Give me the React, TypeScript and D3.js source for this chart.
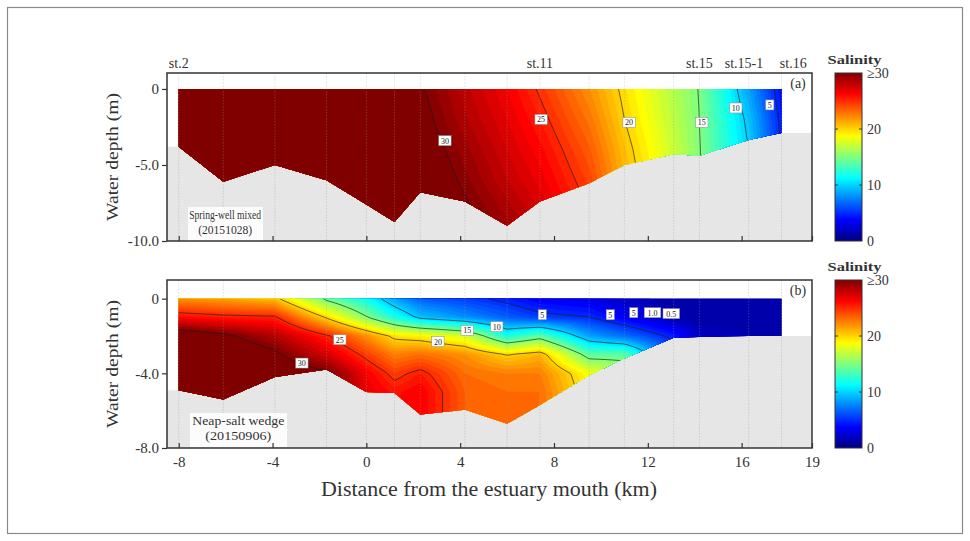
import React, { useEffect, useMemo, useRef } from "react";
import * as d3 from "d3";

// station positions (km from estuary mouth)
const stations = [-8, -6.1, -3.9, -1.7, 0, 1.2, 2.3, 4.2, 6.0, 7.4, 9.5, 11.0, 13.1, 14.2, 16.3, 17.7];

// bottom depth (m) at each station
const bottomA = [-3.8, -6.1, -5.0, -6.0, -7.6, -8.75, -6.8, -7.4, -9.0, -7.4, -6.2, -5.0, -4.3, -4.4, -3.35, -2.9];
const bottomB = [-4.9, -5.4, -4.2, -3.8, -5.0, -5.05, -6.2, -5.95, -6.7, -5.7, -4.1, -3.2, -2.1, -2.05, -2.0, -2.0];

// depth levels of the salinity profiles
const levelsA = [0, -2, -4, -6, -8, -10];
const levelsB = [0, -1, -2, -3, -4, -5, -6, -7];

// salinity profiles, one row per station (a: spring, b: neap)
const salinityA = [
  [32, 32, 32, 32, 32, 32],
  [32, 32, 32, 32, 32, 32],
  [32, 32, 32, 32, 32, 32],
  [32, 32, 32, 32, 32, 32],
  [32, 32, 32, 32, 32, 32],
  [31.5, 31.7, 32, 32, 32, 32],
  [30.2, 30.6, 31, 31.5, 32, 32],
  [28.2, 28.6, 29.2, 29.7, 30.3, 31],
  [26.5, 27, 27.5, 28, 28.8, 29.5],
  [24.8, 25.5, 26.2, 26.8, 27.5, 28],
  [22, 22.8, 23.6, 24.3, 25, 25.5],
  [19.6, 20, 20.6, 21, 21.5, 22],
  [16.5, 16.8, 17.2, 17.5, 18, 18],
  [14.9, 15, 15.1, 15.2, 15.3, 15.3],
  [8.5, 9.5, 10, 10.5, 11, 11],
  [4, 4.5, 5, 5.5, 6, 6],
];
const salinityB = [
  [22, 26, 32, 32, 32, 32, 32, 32],
  [21.5, 25.5, 30.5, 32, 32, 32, 32, 32],
  [20.5, 25.3, 28.5, 30.5, 31.5, 32, 32, 32],
  [14.5, 19.8, 25.3, 27.5, 30.5, 31, 31, 31],
  [11.5, 15.2, 22, 24.5, 26.5, 27, 27, 27],
  [8.5, 12, 19.5, 22.5, 24.5, 25.8, 26, 26],
  [6.5, 9.5, 19, 23, 25.5, 26.5, 26.5, 26.5],
  [5.5, 8, 17.5, 22, 23, 23.5, 23.5, 23.5],
  [4.5, 6.5, 12, 20, 22.5, 23, 23, 23],
  [3.5, 5.5, 14, 21, 22.5, 23, 23, 23],
  [3, 5, 8.5, 14, 18.5, 19, 19, 19],
  [2, 3.5, 7, 14, 17, 17, 17, 17],
  [1, 1.5, 4.5, 6, 6, 6, 6, 6],
  [1, 1, 2, 2, 2, 2, 2, 2],
  [1, 1, 1.5, 1.5, 1.5, 1.5, 1.5, 1.5],
  [1, 1, 1.5, 1.5, 1.5, 1.5, 1.5, 1.5],
];

const stationNames = ["st.2", "st.11", "st.15", "st.15-1", "st.16"];
const stationNameKm = [-8, 7.4, 14.2, 16.1, 18.2];

// contour labels: [km, depth, text]
const labelsA: [number, number, string][] = [
  [3.35, -3.4, "30"], [7.45, -2.0, "25"], [11.2, -2.2, "20"],
  [14.3, -2.2, "15"], [15.75, -1.25, "10"], [17.2, -1.05, "5"],
];
const labelsB: [number, number, string][] = [
  [-2.75, -3.45, "30"], [-1.13, -2.2, "25"], [3.05, -2.3, "20"],
  [4.3, -1.7, "15"], [5.56, -1.5, "10"], [7.5, -0.86, "5"],
  [10.4, -0.86, "5"], [11.4, -0.75, "5"], [12.2, -0.75, "1.0"], [13.0, -0.8, "0.5"],
];

const xTicks = [-8, -4, 0, 4, 8, 12, 16, 19];
const yTicksA = [0, -5, -10];
const yTicksB = [0, -4, -8];
const cbTicks = [0, 10, 20, 30];
const contourLevels = [5, 10, 15, 20, 25, 30];

const jetStops = [0, 3.75, 11.25, 18.75, 26.25, 30];
const jetColors = ["#000080", "#0000ff", "#00ffff", "#ffff00", "#ff0000", "#800000"];

const FONT = "'Liberation Serif', 'Times New Roman', serif";
const TXT = "#333";
const X0 = 167, X1 = 812;
const xScale = d3.scaleLinear().domain([-8.5, 19]).range([X0, X1]);
const color = d3.scaleLinear<string>().domain(jetStops).range(jetColors).clamp(true);

function sampleGrid(grid: number[][], levels: number[], x: number, d: number) {
  const n = stations.length;
  let i = d3.bisectRight(stations, x) - 1;
  i = Math.max(0, Math.min(n - 2, i));
  const tx = Math.max(0, Math.min(1, (x - stations[i]) / (stations[i + 1] - stations[i])));
  const m = levels.length;
  let j = 0;
  while (j < m - 2 && d < levels[j + 1]) j++;
  const ty = Math.max(0, Math.min(1, (levels[j] - d) / (levels[j] - levels[j + 1])));
  const a = grid[i][j] * (1 - ty) + grid[i][j + 1] * ty;
  const b = grid[i + 1][j] * (1 - ty) + grid[i + 1][j + 1] * ty;
  return a * (1 - tx) + b * tx;
}

function AxisG({ axis, transform, size = 14 }: any) {
  const ref = useRef<SVGGElement>(null);
  useEffect(() => {
    const g = d3.select(ref.current as SVGGElement);
    g.selectAll("*").remove();
    g.call(axis);
    g.attr("font-family", FONT).attr("font-size", size);
    g.select(".domain").remove();
    g.selectAll(".tick line").attr("stroke", "#333").attr("stroke-width", 1.2);
    g.selectAll(".tick text").attr("fill", TXT);
  });
  return <g ref={ref} transform={transform} />;
}

function Panel(props: any) {
  const { id, top, bottom, yDomain, grid, levels, depth, labels, yTicks, showX, tag, note1, note2, noteKm, noteD1, noteD2, noteW1, noteW2, noteSize, box } = props;
  const yScale = d3.scaleLinear().domain(yDomain).range([bottom, top]);
  const step = 2;

  const { fills, lines } = useMemo(() => {
    const nx = Math.ceil((X1 - X0) / step) + 1;
    const ny = Math.ceil((bottom - top) / step) + 1;
    const values = new Array(nx * ny);
    for (let j = 0; j < ny; j++) {
      const d = yScale.invert(top + j * step);
      for (let i = 0; i < nx; i++) {
        const x = xScale.invert(X0 + i * step);
        values[j * nx + i] = Math.min(sampleGrid(grid, levels, x, d), 30.4);
      }
    }
    const tr = d3.geoTransform({
      point(x: number, y: number) {
        (this as any).stream.point(X0 + (x - 0.5) * step, top + (y - 0.5) * step);
      },
    });
    const path = d3.geoPath(tr);
    const bands = d3.contours().size([nx, ny]).thresholds(d3.range(0, 30.01, 0.5))(values);
    const iso = d3.contours().size([nx, ny]).thresholds(contourLevels)(values);
    return {
      fills: bands.map((c) => ({ d: path(c as any) || "", fill: color(c.value + 0.25) })),
      lines: iso.map((c) => path(c as any) || ""),
    };
  }, []);

  const water = stations.map((s) => [xScale(s), yScale(0)]).concat(
    stations.map((s, i) => [xScale(s), yScale(depth[i])]).reverse()
  );
  const ground = [[X0, yScale(depth[0])]]
    .concat(stations.map((s, i) => [xScale(s), yScale(depth[i])]))
    .concat([[X1, yScale(depth[depth.length - 1])], [X1, bottom], [X0, bottom]]);
  const poly = (p: number[][]) => p.map((q) => q.join(",")).join(" ");

  const yAxis = d3.axisLeft(yScale).tickValues(yTicks).tickSize(5).tickPadding(3)
    .tickFormat((d: any) => (d === 0 ? "0" : (+d).toFixed(1)));
  const xAxis = d3.axisBottom(xScale).tickValues(xTicks).tickSizeInner(-5).tickSizeOuter(0).tickPadding(8)
    .tickFormat((d: any) => (showX ? String(d) : ""));

  return (
    <g>
      <rect x={X0} y={top} width={X1 - X0} height={bottom - top} fill="#fff" />
      <polygon points={poly(ground)} fill="#e6e6e6" />
      <clipPath id={"water-" + id}>
        <polygon points={poly(water)} />
      </clipPath>
      <g clipPath={`url(#water-${id})`}>
        {fills.map((f, i) => (
          <path key={i} d={f.d} fill={f.fill} stroke={f.fill} strokeWidth={0.3} />
        ))}
        {lines.map((d, i) => (
          <path key={i} d={d} fill="none" stroke="#1a1a1a" strokeWidth={0.75} strokeOpacity={0.85} />
        ))}
      </g>
      {stations.map((s, i) => (
        <line key={i} x1={xScale(s)} x2={xScale(s)} y1={top} y2={bottom}
          stroke="#999" strokeWidth={0.6} strokeDasharray="1.5,1.5" strokeOpacity={0.55} />
      ))}
      {labels.map(([k, d, t]: [number, number, string], i: number) => {
        const w = 4 + t.length * 4.2;
        return (
          <g key={i} transform={`translate(${xScale(k)},${yScale(d)})`}>
            <rect x={-w / 2} y={-5} width={w} height={10} fill="#fff" stroke="#888" strokeWidth={0.5} />
            <text y={3} textAnchor="middle" fontSize={8} fontFamily={FONT} fill="#222">{t}</text>
          </g>
        );
      })}
      <rect x={box[0]} y={box[1]} width={box[2]} height={box[3]} fill="#fff" fillOpacity={0.85} />
      <text x={xScale(noteKm)} y={yScale(noteD1)} textAnchor="middle" fontFamily={FONT} fontSize={noteSize}
        fill={TXT} textLength={noteW1} lengthAdjust="spacingAndGlyphs">{note1}</text>
      <text x={xScale(noteKm)} y={yScale(noteD2)} textAnchor="middle" fontFamily={FONT} fontSize={noteSize}
        fill={TXT} textLength={noteW2} lengthAdjust="spacingAndGlyphs">{note2}</text>
      <rect x={X0} y={top} width={X1 - X0} height={bottom - top} fill="none" stroke="#333" strokeWidth={1.5} />
      <AxisG axis={yAxis} transform={`translate(${X0},0)`} size={15} />
      <AxisG axis={xAxis} transform={`translate(0,${bottom})`} size={15} />
      <text x={X1 - 14} y={top + 15} textAnchor="middle" fontFamily={FONT} fontSize={14} fill={TXT}>{tag}</text>
      <text transform={`translate(118,${(top + bottom) / 2}) rotate(-90)`} textAnchor="middle" fontFamily={FONT}
        fontSize={17} fill={TXT} textLength={128} lengthAdjust="spacingAndGlyphs">Water depth (m)</text>
    </g>
  );
}

function ColorBar({ id, top, bottom }: any) {
  const x = 835, w = 27;
  const s = d3.scaleLinear().domain([0, 30]).range([bottom, top]);
  const axis = d3.axisRight(s).tickValues(cbTicks).tickSize(0).tickPadding(5)
    .tickFormat((d: any) => (d === 30 ? "\u226530" : String(d)));
  return (
    <g>
      <defs>
        <linearGradient id={"jet-" + id} x1="0" y1="1" x2="0" y2="0">
          {jetStops.map((v, i) => (
            <stop key={i} offset={v / 30} stopColor={jetColors[i]} />
          ))}
        </linearGradient>
      </defs>
      <text x={x + w / 2 + 6} y={top - 9} textAnchor="middle" fontFamily={FONT} fontSize={13} fontWeight="bold"
        fill={TXT} textLength={54} lengthAdjust="spacingAndGlyphs">Salinity</text>
      <rect x={x} y={top} width={w} height={bottom - top} fill={`url(#jet-${id})`} stroke="#333" strokeWidth={1} />
      {[10, 20].map((v) => (
        <g key={v}>
          <line x1={x} x2={x + 3} y1={s(v)} y2={s(v)} stroke="#333" />
          <line x1={x + w - 3} x2={x + w} y1={s(v)} y2={s(v)} stroke="#333" />
        </g>
      ))}
      <AxisG axis={axis} transform={`translate(${x + w},0)`} size={14} />
    </g>
  );
}

export default function App() {
  return (
    <svg width={970} height={541} style={{ position: "absolute", left: 0, top: 0, background: "#fff" }}>
      <rect x={7.5} y={7.5} width={955} height={526} fill="#fff" stroke="#8a8a8a" strokeWidth={1.2} />
      {stationNames.map((n, i) => (
        <text key={n} x={xScale(stationNameKm[i])} y={68} textAnchor="middle" fontFamily={FONT} fontSize={14} fill={TXT}>{n}</text>
      ))}
      <Panel id="a" top={73} bottom={241} yDomain={[-10, 1.05]} grid={salinityA} levels={levelsA} depth={bottomA}
        labels={labelsA} yTicks={yTicksA} showX={false} tag="(a)"
        note1="Spring-well mixed" note2="(20151028)" noteKm={-6.02} noteD1={-8.55} noteD2={-9.55}
        noteW1={72} noteW2={54} noteSize={12} box={[188, 207, 75, 34]} />
      <Panel id="b" top={280} bottom={448} yDomain={[-8, 1.0]} grid={salinityB} levels={levelsB} depth={bottomB}
        labels={labelsB} yTicks={yTicksB} showX={true} tag="(b)"
        note1="Neap-salt wedge" note2="(20150906)" noteKm={-5.46} noteD1={-6.78} noteD2={-7.55}
        noteW1={92} noteW2={66} noteSize={12.5} box={[190, 413, 97, 34]} />
      <ColorBar id="a" top={73} bottom={241} />
      <ColorBar id="b" top={280} bottom={448} />
      <text x={489} y={496} textAnchor="middle" fontFamily={FONT} fontSize={20} fill={TXT}
        textLength={336} lengthAdjust="spacingAndGlyphs">Distance from the estuary mouth (km)</text>
    </svg>
  );
}
